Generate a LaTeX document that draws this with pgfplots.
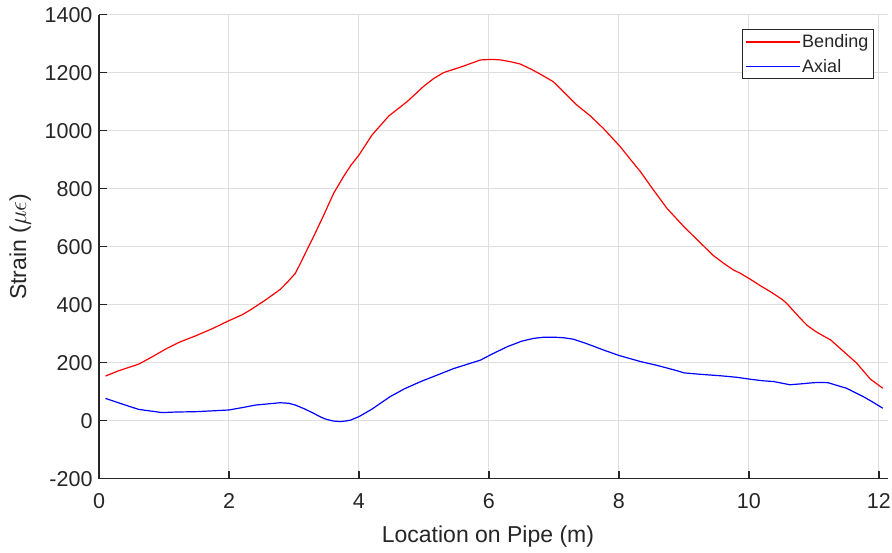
\documentclass[border=0pt]{standalone}
\usepackage{fontspec}
\setmainfont{Liberation Sans}
\usepackage{pgfplots}
\pgfplotsset{compat=1.18}
\definecolor{axgray}{RGB}{38,38,38}
\definecolor{gridgray}{RGB}{222,222,222}

\begin{document}
\begin{tikzpicture}
% fix the page to the reference's 892 x 552 frame (axis box is 789 x 464)
\useasboundingbox (-99pt,-73.3pt) rectangle (793pt,478.7pt);
\begin{axis}[
    anchor=south west, at={(0pt,0pt)},
    scale only axis, width=789pt, height=464pt,
    xmin=0, xmax=12.14, ymin=-200, ymax=1400,
    xtick={0,2,...,12}, ytick={-200,0,...,1400},
    axis lines=left, axis line style={-, axgray, line width=1.2pt},
    tick align=inside, major tick length=8pt,
    tick style={axgray, line width=1.2pt},
    grid=major, major grid style={gridgray, line width=1pt},
    /pgf/number format/assume math mode=true,
    /pgf/number format/1000 sep={},
    ticklabel style={font=\fontsize{21.5}{25}\selectfont, text=axgray},
    xticklabel style={yshift=-11pt},
    yticklabel style={xshift=-3pt},
    label style={font=\fontsize{23}{27}\selectfont, text=axgray},
    xlabel={Location on Pipe (m)},
    ylabel={Strain ($\mu\epsilon$)},
    xlabel style={at={(axis description cs:0.493,-0.1257)}, anchor=center},
    ylabel style={at={(axis description cs:-0.1,0.5)}, anchor=center},
    legend style={at={(axis description cs:0.982,0.9685)}, anchor=north east,
        draw=axgray, line width=1pt, fill=white,
        font=\fontsize{18}{21}\selectfont, text=axgray,
        inner xsep=3pt, inner ysep=3pt, row sep=6pt},
    legend cell align=left,
    legend image code/.code={\draw[#1] (0pt,0pt) -- (54pt,0pt);},
]
\addplot[red, line width=1.2pt] coordinates {
(0.10,154) (0.30,172) (0.61,195) (0.80,218) (1.05,250) (1.25,272) (1.48,292)
(1.75,318) (2.00,345) (2.20,365) (2.33,382) (2.56,416) (2.79,453) (2.90,478)
(3.02,508) (3.10,543) (3.20,589) (3.30,634) (3.45,705) (3.61,784) (3.76,841)
(3.88,882) (4.00,916) (4.20,985) (4.46,1051) (4.74,1100) (4.99,1152) (5.15,1180)
(5.30,1200) (5.61,1223) (5.87,1244) (6.05,1246) (6.18,1244) (6.33,1238) (6.48,1230)
(6.65,1212) (6.79,1195) (6.99,1169) (7.10,1145) (7.35,1089) (7.56,1051) (7.76,1008)
(8.02,945) (8.18,900) (8.33,859) (8.53,796) (8.74,732) (9.00,669) (9.25,614)
(9.45,570) (9.61,543) (9.76,520) (9.87,508) (10.02,488) (10.18,465) (10.33,445)
(10.50,420) (10.58,405) (10.79,353) (10.90,328) (11.03,307) (11.26,278) (11.46,238)
(11.66,198) (11.87,143) (12.06,112)
};
\addlegendentry{Bending}
\addplot[blue, line width=1.2pt] coordinates {
(0.10,77) (0.35,58) (0.61,39) (0.97,28) (1.20,30) (1.48,31) (1.75,34) (2.00,37)
(2.20,45) (2.41,54) (2.60,58) (2.79,62) (2.92,60) (3.02,54) (3.15,42) (3.28,28)
(3.40,14) (3.48,6) (3.60,-1) (3.71,-3) (3.80,-1) (3.87,2) (4.00,14) (4.20,40)
(4.48,83) (4.70,110) (4.94,134) (5.20,157) (5.46,180) (5.70,197) (5.87,209)
(6.05,230) (6.28,255) (6.50,274) (6.69,284) (6.85,288) (7.00,288) (7.15,286)
(7.30,281) (7.50,266) (7.76,244) (8.00,225) (8.33,204) (8.60,190) (8.90,172)
(9.00,165) (9.25,160) (9.56,155) (9.80,150) (10.02,143) (10.20,138) (10.38,135)
(10.63,124) (10.80,127) (10.99,131) (11.10,132) (11.22,131) (11.35,122) (11.50,112)
(11.76,83) (11.90,65) (12.06,43)
};
\addlegendentry{Axial}
\end{axis}
\end{tikzpicture}
\end{document}
